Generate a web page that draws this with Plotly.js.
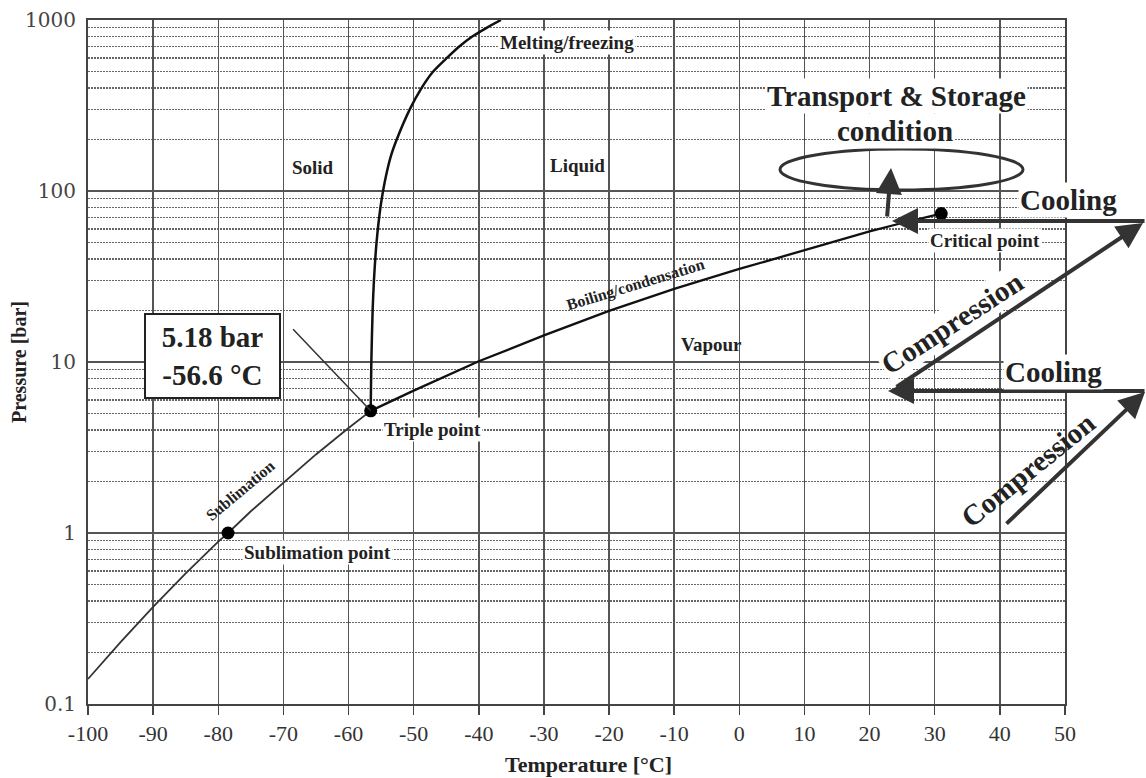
<!DOCTYPE html>
<html><head><meta charset="utf-8">
<script src="https://cdn.plot.ly/plotly-3.0.1.min.js"></script>
<style>html,body{margin:0;padding:0;background:#fff}</style>
</head><body><div id="chart" style="width:1146px;height:778px"></div>
<script>
// ---- data ----
const sublimationT = [-100, -95, -90, -85, -80, -78.5, -75, -70, -65, -60, -56.6];
const sublimationP = [0.14, 0.23, 0.37, 0.58, 0.89, 1.0, 1.34, 1.96, 2.88, 4.11, 5.18];

const meltingT = [-56.6, -56.5, -56.3, -56.1, -55.7, -55.3, -54.9, -54.3, -53.5, -52.6, -50.6, -48.8, -47.0, -44.9, -43.0, -41.0, -38.8, -36.6];
const meltingP = [5.18, 10, 20, 30, 50, 70, 90, 120, 160, 200, 300, 400, 500, 600, 700, 800, 900, 1000];

const boilingT = [-56.6, -50, -40, -30, -20, -10, 0, 10, 20, 25, 31];
const boilingP = [5.18, 6.8, 10.1, 14.3, 19.9, 26.8, 35.0, 45.0, 58.0, 65.0, 73.8];

const pointNames = ['Triple point', 'Sublimation point', 'Critical point'];
const pointT = [-56.6, -78.5, 31];
const pointP = [5.18, 1.0, 73.8];

const xTickVals = [-100, -90, -80, -70, -60, -50, -40, -30, -20, -10, 0, 10, 20, 30, 40, 50];
const xTickText = ['-100', '-90', '-80', '-70', '-60', '-50', '-40', '-30', '-20', '-10', '0', '10', '20', '30', '40', '50'];
const yTickVals = [0.1, 1, 10, 100, 1000];
const yTickText = ['0.1', '1', '10', '100', '1000'];

// ---- styling ----
const SERIF = 'Liberation Serif, Times New Roman, serif';
const small = {family: SERIF, size: 19, color: '#222', weight: 'bold'};
const mid = {family: SERIF, size: 16, color: '#222', weight: 'bold'};
const big = {family: SERIF, size: 29, color: '#222', weight: 'bold'};
const ARROW = '#333';

const traces = [
  {x: sublimationT, y: sublimationP, mode: 'lines', line: {color: '#333', width: 1.8}, name: 'Sublimation'},
  {x: meltingT, y: meltingP, mode: 'lines', line: {color: '#111', width: 2.5, shape: 'spline', smoothing: 0.6}, name: 'Melting/freezing'},
  {x: boilingT, y: boilingP, mode: 'lines', line: {color: '#111', width: 2.3}, name: 'Boiling/condensation'},
  {x: pointT, y: pointP, mode: 'markers', marker: {color: '#000', size: 13}, text: pointNames, name: 'points'}
];

const L = 88, W = 977, T = 20, H = 684;
const px = v => (v - L) / W;
const py = v => (T + H - v) / H;
const C = {xanchor: 'center', yanchor: 'middle', showarrow: false};
const P = (x, y, extra) => Object.assign({xref: 'paper', yref: 'paper', x: px(x), y: py(y)}, C, extra);
const arrow = (x, y, ax, ay) => ({xref: 'paper', yref: 'paper', x: px(x), y: py(y), ax: ax, ay: ay, text: '',
  showarrow: true, arrowhead: 2, arrowsize: 1.3, arrowwidth: 4, arrowcolor: ARROW});

const annotations = [
  P(567, 42, {text: 'Melting/freezing', font: small, bgcolor: 'white'}),
  P(313, 167, {text: 'Solid', font: small}),
  P(577, 166, {text: 'Liquid', font: small}),
  P(711, 344, {text: 'Vapour', font: small}),
  P(635, 285, {text: 'Boiling/condensation', textangle: -17, font: mid}),
  P(240, 490, {text: 'Sublimation', textangle: -40, font: mid}),
  // point labels anchored to the data points
  Object.assign({x: pointT[0], y: Math.log10(pointP[0]), text: pointNames[0], xshift: 62, yshift: -19, font: small, bgcolor: 'white'}, C),
  Object.assign({x: pointT[1], y: Math.log10(pointP[1]), text: pointNames[1], xshift: 89, yshift: -19, font: small, bgcolor: 'white'}, C),
  Object.assign({x: pointT[2], y: Math.log10(pointP[2]), text: pointNames[2], xshift: 44, yshift: -27, font: small, bgcolor: 'white'}, C),
  // triple point box + leader
  P(212, 356, {text: pointP[0] + ' bar<br>' + pointT[0] + ' °C', font: big, bgcolor: 'white',
    bordercolor: '#222', borderwidth: 2, borderpad: 2, width: 129, height: 78}),
  {x: pointT[0], y: Math.log10(pointP[0]), text: '', showarrow: true, arrowhead: 0, arrowwidth: 1.5, arrowcolor: '#333', ax: -79, ay: -83},
  // transport & storage
  P(896, 96, {text: 'Transport &amp; Storage', font: big, bgcolor: 'white'}),
  P(895, 131, {text: 'condition', font: big, bgcolor: 'white'}),
  // arrows
  arrow(891, 168, -4, 50),
  arrow(892, 221, 270, 0),
  arrow(1143, 223, -248, 165),
  arrow(888, 391, 270, 0),
  arrow(1146, 392, -141, 133),
  P(1068, 200, {text: 'Cooling', font: big, bgcolor: 'white'}),
  P(1053, 372, {text: 'Cooling', font: big, bgcolor: 'white'}),
  P(952, 323, {text: 'Compression', textangle: -33, font: big, bgcolor: 'white'}),
  P(1028, 470, {text: 'Compression', textangle: -39, font: big}),
  // axis titles placed as in the reference
  P(588, 764, {text: 'Temperature [°C]', font: {family: SERIF, size: 22, color: '#222', weight: 'bold'}}),
  P(19, 362, {text: 'Pressure [bar]', textangle: -90, font: {family: SERIF, size: 20, color: '#222', weight: 'bold'}})
];

const shapes = [
  {type: 'circle', xref: 'paper', yref: 'paper', x0: px(780), x1: px(1023), y0: py(190), y1: py(149), line: {color: '#333', width: 3}}
];

const layout = {
  width: 1146, height: 778,
  margin: {l: L, r: 1146 - L - W, t: T, b: 778 - T - H},
  paper_bgcolor: '#fff', plot_bgcolor: '#fff',
  showlegend: false,
  font: {family: SERIF, color: '#333'},
  xaxis: {
    range: [-100, 50], tickvals: xTickVals, ticktext: xTickText, ticks: 'outside', ticklen: 9, tickwidth: 1.5, tickcolor: '#444',
    showgrid: true, gridcolor: '#555', gridwidth: 1.5, zeroline: false,
    showline: true, linecolor: '#444', linewidth: 2, mirror: true,
    tickfont: {family: SERIF, size: 22, color: '#333'}
  },
  yaxis: {
    type: 'log', range: [-1, 3], tickvals: yTickVals, ticktext: yTickText, ticks: '',
    showgrid: true, gridcolor: '#555', gridwidth: 1.5, zeroline: false,
    showline: true, linecolor: '#444', linewidth: 2, mirror: true,
    ticklabelstandoff: 6,
    tickfont: {family: 'DejaVu Serif, serif', size: 20, color: '#444'},
    minor: {showgrid: true, dtick: 'D1', gridcolor: '#666', gridwidth: 1.3, griddash: '2px,1px'}
  },
  annotations: annotations,
  shapes: shapes
};

Plotly.newPlot('chart', traces, layout, {displayModeBar: false, staticPlot: true});
</script>
</body></html>
